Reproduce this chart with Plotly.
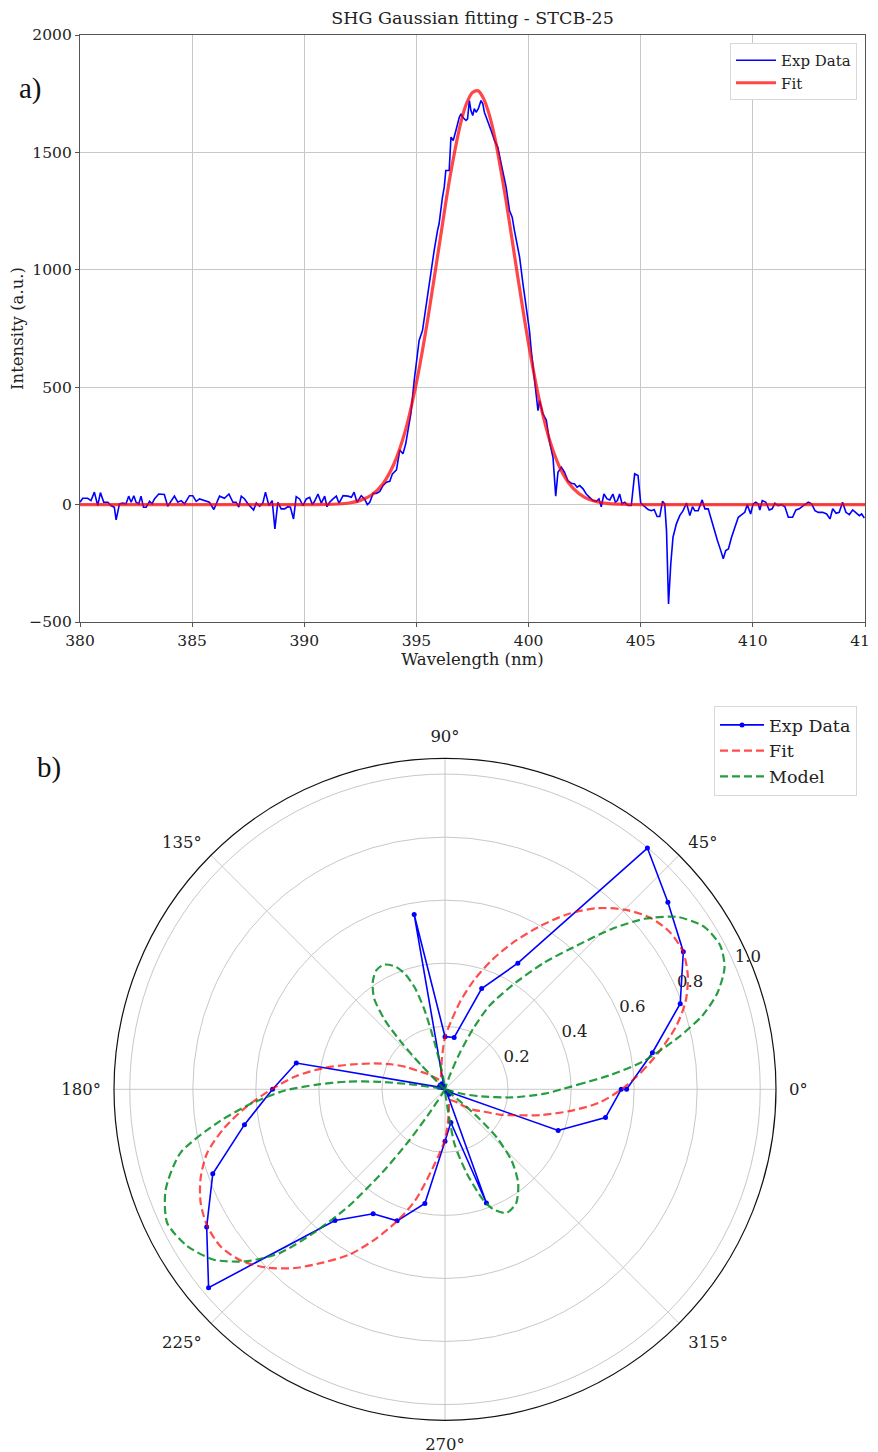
import plotly.graph_objects as go

# ---------------- Panel a) data ----------------
wl_exp = [380.00, 380.12, 380.34, 380.49, 380.64, 380.79, 380.91, 381.06, 381.24, 381.38,
          381.53, 381.61, 381.76, 381.90, 382.05, 382.17, 382.28, 382.40, 382.50, 382.62,
          382.72, 382.83, 382.95, 383.10, 383.21, 383.32, 383.51, 383.76, 383.91, 384.06,
          384.21, 384.36, 384.51, 384.66, 384.88, 385.03, 385.18, 385.33, 385.63, 385.77,
          385.97, 386.22, 386.44, 386.64, 386.82, 386.96, 387.08, 387.19, 387.34, 387.49,
          387.74, 387.86, 388.01, 388.15, 388.27, 388.42, 388.57, 388.69, 388.82, 388.97,
          389.12, 389.27, 389.38, 389.52, 389.64, 389.79, 389.94, 390.09, 390.24, 390.36,
          390.46, 390.61, 390.76, 390.91, 391.01, 391.13, 391.28, 391.43, 391.55, 391.73,
          391.95, 392.10, 392.22, 392.35, 392.54, 392.69, 392.81, 392.92, 393.07, 393.21,
          393.36, 393.51, 393.66, 393.81, 393.93, 394.11, 394.26, 394.40, 394.52, 394.67,
          394.75, 394.90, 395.12, 395.27, 395.42, 395.49, 395.64, 395.79, 395.94, 396.01,
          396.16, 396.24, 396.31, 396.46, 396.54, 396.64, 396.76, 396.91, 396.99, 397.06,
          397.21, 397.28, 397.36, 397.43, 397.51, 397.58, 397.66, 397.76, 397.88, 397.96,
          398.03, 398.18, 398.33, 398.48, 398.63, 398.78, 398.93, 399.00, 399.15, 399.27,
          399.37, 399.52, 399.60, 399.75, 399.90, 399.97, 400.04, 400.12, 400.19, 400.27,
          400.34, 400.42, 400.49, 400.64, 400.79, 400.94, 401.09, 401.21, 401.31, 401.46,
          401.60, 401.75, 401.90, 402.05, 402.16, 402.28, 402.43, 402.57, 402.72, 402.87,
          403.02, 403.14, 403.24, 403.36, 403.50, 403.62, 403.76, 403.87, 403.96, 404.06,
          404.17, 404.29, 404.43, 404.58, 404.73, 404.88, 405.00, 405.18, 405.33, 405.48,
          405.60, 405.73, 405.85, 405.97, 406.07, 406.15, 406.24, 406.34, 406.44, 406.59,
          406.74, 406.89, 407.04, 407.19, 407.31, 407.41, 407.56, 407.74, 407.86, 408.01,
          408.16, 408.26, 408.42, 408.57, 408.68, 408.79, 408.91, 409.05, 409.20, 409.35,
          409.49, 409.64, 409.75, 409.90, 410.01, 410.13, 410.24, 410.31, 410.42, 410.58,
          410.73, 410.86, 410.98, 411.13, 411.28, 411.43, 411.58, 411.77, 411.92, 412.07,
          412.25, 412.47, 412.62, 412.77, 412.92, 413.11, 413.29, 413.44, 413.56, 413.71,
          413.85, 414.00, 414.15, 414.30, 414.45, 414.60, 414.75, 414.85, 414.97]
int_exp = [10, 27, 27, 17, 53, -4, 51, 10, 10, -4,
           -11, -65, 3, 6, 3, 36, 10, 38, 10, 3,
           36, -11, -11, 14, 3, 24, 45, 43, -7, 17,
           36, 10, 17, 3, 38, 38, 14, 24, 14, 10,
           -21, 36, 27, 45, 10, 10, -11, 36, 24, 3,
           -23, 7, -7, 6, 53, -4, 17, -104, 10, -18,
           -18, -9, -11, -61, 34, 24, -4, 24, 31, 0,
           14, 45, 6, 36, -9, 10, 24, 36, 6, 38,
           36, 31, 53, 10, 38, 24, 0, 10, 48, 48,
           55, 81, 95, 99, 131, 148, 233, 216, 258, 344,
           386, 528, 699, 741, 841, 883, 997, 1082, 1167, 1196,
           1309, 1352, 1423, 1423, 1565, 1551, 1593, 1650, 1664, 1650,
           1636, 1643, 1721, 1678, 1657, 1686, 1671, 1686, 1721, 1707,
           1671, 1636, 1593, 1551, 1522, 1451, 1380, 1352, 1252, 1224,
           1167, 1082, 1054, 940, 841, 798, 741, 656, 599, 514,
           457, 400, 443, 386, 360, 265, 200, 36, 138, 159,
           138, 102, 91, 88, 74, 81, 67, 45, 31, 17,
           14, 24, -9, 45, 24, 20, 45, 10, 17, 45,
           3, 10, -4, -4, 131, 124, 6, -7, -21, -26,
           -21, -51, -51, 14, 3, -111, -423, -253, -139, -82,
           -47, -26, 7, -47, -9, -26, -26, 20, -18, -18,
           -68, -111, -153, -196, -231, -196, -189, -139, -97, -54,
           -44, -33, 0, -40, 3, 10, 3, -23, 17, 10,
           -23, -18, 6, -4, 0, -9, -54, -54, -23, -18,
           -4, 10, 3, -26, -33, -33, -40, -61, -18, -37,
           -33, 10, -33, -43, -23, -37, -47, -40, -57]

wl_fit = [380.0, 382.0, 384.0, 386.0, 388.0, 390.0, 391.0, 391.5, 392.0, 392.5, 393.0,
          393.5, 394.0, 394.5, 395.0, 395.5, 396.0, 396.5, 397.0, 397.25, 397.5,
          397.75, 398.0, 398.25, 398.5, 399.0, 399.5, 400.0, 400.5, 401.0, 401.5,
          402.0, 402.5, 403.0, 403.5, 404.0, 404.5, 405.0, 408.0, 411.0, 415.0]
int_fit = [0, 0, 0, 0, 0, 0, 1, 2.5, 7, 18, 41,
           88, 174, 313, 519, 786, 1094, 1397, 1635, 1712, 1755,
           1762, 1728, 1660, 1561, 1292, 981, 684, 437, 256, 137,
           68, 31, 13, 5, 1.6, 0.5, 0, 0, 0, 0]

# ---------------- Panel b) data ----------------
exp_theta = [0, 10, 20, 30, 40, 50, 60, 70, 80, 90, 100, 110, 120, 130, 140, 150, 160, 170,
             180, 190, 200, 210, 220, 230, 240, 250, 260, 270, 280, 290, 300, 310, 320, 330,
             340, 350, 360]
exp_r = [0.576, 0.668, 0.794, 0.873, 0.923, 0.999, 0.462, 0.340, 0.167, 0.167, 0.563, 0.010,
         0.020, 0.010, 0.020, 0.010, 0.020, 0.479, 0.547, 0.646, 0.784, 0.873, 0.979, 0.543,
         0.456, 0.444, 0.368, 0.165, 0.107, 0.384, 0.010, 0.020, 0.010, 0.020, 0.382, 0.517,
         0.559]

fit_theta = [0, 5, 10, 15, 20, 25, 30, 35, 40, 45, 50, 55, 60, 65, 70, 75, 80, 85, 90, 95,
             100, 105, 110, 115, 120, 125, 130, 135, 140, 145, 150, 155, 160, 165, 170, 175,
             180, 185, 190, 195, 200, 205, 210, 215, 220, 225, 230, 235, 240, 245, 250, 255,
             260, 265, 270, 275, 280, 285, 290, 295, 300, 305, 310, 315, 320, 325, 330, 335,
             340, 345, 350, 355, 360]
fit_r = [0.560, 0.625, 0.690, 0.757, 0.812, 0.850, 0.872, 0.870, 0.848, 0.806, 0.750, 0.678,
         0.595, 0.515, 0.437, 0.360, 0.285, 0.215, 0.165, 0.105, 0.068, 0.048, 0.038, 0.034,
         0.035, 0.040, 0.048, 0.058, 0.078, 0.100, 0.140, 0.188, 0.240, 0.305, 0.390, 0.475,
         0.550, 0.632, 0.712, 0.781, 0.825, 0.855, 0.870, 0.869, 0.845, 0.800, 0.740, 0.670,
         0.605, 0.525, 0.445, 0.365, 0.270, 0.205, 0.160, 0.105, 0.070, 0.050, 0.040, 0.038,
         0.040, 0.045, 0.052, 0.065, 0.088, 0.115, 0.140, 0.190, 0.240, 0.315, 0.400, 0.490,
         0.560]

model_theta = [0, 2, 5, 8, 12.5, 16, 19.5, 23.5, 27.5, 32, 36.5, 40.5, 44, 47.5, 52, 57, 62,
               65, 68, 71, 75, 85, 96, 100, 102.5, 104.5, 106.5, 109, 112, 116, 120, 124,
               128, 131, 133, 134.5, 136.5, 145, 160, 168, 171.5, 173.5, 175.5, 178, 180.5,
               184, 188, 193.5, 199.8, 205.7, 211.3, 216.4, 221, 224.8, 227.7, 230.5, 233,
               235, 236.5, 239, 250, 268, 276, 278.5, 280, 284.5, 289, 292, 296.4, 302, 308,
               313, 317, 319.5, 321.5, 325, 335, 342, 345.5, 348.5, 353, 357.5, 360]
model_r = [0.370, 0.422, 0.529, 0.635, 0.757, 0.850, 0.917, 0.967, 0.985, 0.971, 0.919,
           0.833, 0.730, 0.618, 0.509, 0.395, 0.300, 0.215, 0.120, 0.045, 0.010, 0.0, 0.010,
           0.060, 0.150, 0.260, 0.335, 0.385, 0.420, 0.440, 0.436, 0.410, 0.365, 0.290,
           0.200, 0.110, 0.030, 0.005, 0.0, 0.010, 0.100, 0.210, 0.310, 0.410, 0.510, 0.610,
           0.720, 0.863, 0.942, 0.978, 0.957, 0.911, 0.831, 0.736, 0.610, 0.480, 0.330,
           0.200, 0.100, 0.020, 0.0, 0.0, 0.020, 0.100, 0.180, 0.275, 0.371, 0.411, 0.438,
           0.426, 0.377, 0.310, 0.225, 0.140, 0.060, 0.010, 0.0, 0.010, 0.060, 0.110, 0.212,
           0.317, 0.370]

y_ticks = [-500, 0, 500, 1000, 1500, 2000]
x_ticks = [380, 385, 390, 395, 400, 405, 410, 415]
r_ticks = [0.2, 0.4, 0.6, 0.8, 1.0]
r_ticklabels = ["0.2", "0.4", "0.6", "0.8", "1.0"]
R_LABEL_ANGLE = 23.5      # radial tick labels sit along this direction
R_LABEL_OUTSET = 0.048    # labels sit just outside their circle (inside the 1.05 limit)

SERIF = "DejaVu Serif"
W, H = 878, 1452
OFF = 8  # page body margin shifts the figure by this many pixels


def fx(px):
    return (px - OFF) / W


def fy(py):
    return 1 - (py - OFF) / H


fig = go.Figure()

fig.add_trace(go.Scatter(x=wl_exp, y=int_exp, mode="lines", name="Exp Data",
                         line=dict(color="#0000ff", width=1.6), legend="legend"))
fig.add_trace(go.Scatter(x=wl_fit, y=int_fit, mode="lines", name="Fit",
                         line=dict(color="rgba(255,0,0,0.72)", width=3.2, shape="spline",
                                   smoothing=0.8), legend="legend"))

fig.add_trace(go.Scatterpolar(theta=exp_theta, r=exp_r, mode="lines+markers", name="Exp Data",
                              line=dict(color="#0000ff", width=1.6),
                              marker=dict(color="#0000ff", size=5), legend="legend2",
                              subplot="polar"))
fig.add_trace(go.Scatterpolar(theta=fit_theta, r=fit_r, mode="lines", name="Fit",
                              line=dict(color="rgba(255,0,0,0.7)", width=2.2, dash="8px,4px",
                                        shape="spline", smoothing=0.8),
                              legend="legend2", subplot="polar"))
fig.add_trace(go.Scatterpolar(theta=model_theta, r=model_r, mode="lines", name="Model",
                              line=dict(color="rgba(0,140,30,0.85)", width=2.2, dash="8px,4px",
                                        shape="spline", smoothing=0.7),
                              legend="legend2", subplot="polar"))
# radial tick labels, placed through the polar scale just outside each circle
fig.add_trace(go.Scatterpolar(theta=[R_LABEL_ANGLE] * len(r_ticks),
                              r=[v + R_LABEL_OUTSET for v in r_ticks],
                              mode="text", text=r_ticklabels, textposition="middle center",
                              textfont=dict(family=SERIF, size=16.5, color="#222"),
                              cliponaxis=False, showlegend=False, hoverinfo="skip",
                              subplot="polar"))

axis_common = dict(showline=True, mirror=True, linecolor="#555555", linewidth=1.3,
                   ticks="outside", ticklen=4, tickcolor="#555555", showgrid=True,
                   gridcolor="#c8c8c8", gridwidth=1, zeroline=False,
                   ticklabeloverflow="allow",
                   tickfont=dict(family=SERIF, size=15.5, color="#222"))

cx0, cx1 = fx(80), fx(865)
cy0, cy1 = fy(622), fy(35)

fig.update_layout(
    width=W, height=H,
    margin=dict(l=0, r=0, t=0, b=0, autoexpand=False),
    paper_bgcolor="white", plot_bgcolor="white",
    font=dict(family=SERIF, size=15, color="#222"),
    title=dict(text="SHG Gaussian fitting - STCB-25", x=(cx0 + cx1) / 2, xanchor="center",
               xref="paper", y=fy(18), yanchor="middle",
               font=dict(family=SERIF, size=17.5, color="#222")),
    xaxis=dict(domain=[cx0, cx1], range=[380, 415], tickvals=x_ticks,
               title=dict(text="Wavelength (nm)", standoff=2,
                          font=dict(family=SERIF, size=16.5, color="#222")),
               **axis_common),
    yaxis=dict(domain=[cy0, cy1], range=[-500, 2000], tickvals=y_ticks,
               title=dict(text="Intensity (a.u.)", standoff=8,
                          font=dict(family=SERIF, size=16.5, color="#222")),
               **axis_common),
    legend=dict(x=fx(857), y=fy(43), xanchor="right", yanchor="top",
                bgcolor="white", bordercolor="#d8d8d8", borderwidth=1,
                font=dict(family=SERIF, size=15, color="#222"), tracegroupgap=0,
                itemwidth=40),
    legend2=dict(x=fx(857), y=fy(706), xanchor="right", yanchor="top",
                 bgcolor="white", bordercolor="#d8d8d8", borderwidth=1,
                 font=dict(family=SERIF, size=17.5, color="#222"), tracegroupgap=0,
                 itemwidth=44),
    polar=dict(
        domain=dict(x=[fx(114), fx(776)], y=[fy(1420.3), fy(758.3)]),
        bgcolor="white",
        angularaxis=dict(rotation=0, direction="counterclockwise", dtick=45,
                         ticksuffix="°", showline=True, linecolor="#111", linewidth=1.2,
                         showgrid=True, gridcolor="#c8c8c8", gridwidth=1,
                         ticks="outside", ticklen=9, tickcolor="rgba(0,0,0,0)",
                         tickfont=dict(family=SERIF, size=16.5, color="#222")),
        radialaxis=dict(range=[0, 1.05], tickvals=r_ticks, showticklabels=False,
                        angle=22.5, showline=False, ticks="", showgrid=True,
                        gridcolor="#c8c8c8", gridwidth=1),
    ),
    annotations=[
        dict(text="a)", x=fx(30), y=fy(88), xref="paper", yref="paper",
             xanchor="center", yanchor="middle",
             showarrow=False, font=dict(family="Liberation Serif", size=29, color="#111")),
        dict(text="b)", x=fx(49), y=fy(768), xref="paper", yref="paper",
             xanchor="center", yanchor="middle",
             showarrow=False, font=dict(family="Liberation Serif", size=29, color="#111")),
    ],
    showlegend=True,
)

fig.write_html("out.html")
